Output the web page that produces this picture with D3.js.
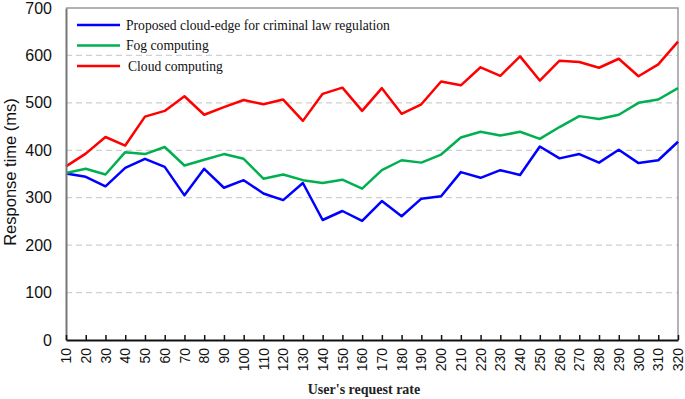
<!DOCTYPE html>
<html>
<head>
<meta charset="utf-8">
<script src="https://cdn.jsdelivr.net/npm/d3@7"></script>
<style>
  body { margin: 0; background: #fff; }
  svg { display: block; }
</style>
</head>
<body>
<svg id="chart" width="685" height="399"></svg>
<script>
const rates = [10, 20, 30, 40, 50, 60, 70, 80, 90, 100, 110, 120, 130, 140, 150, 160,
  170, 180, 190, 200, 210, 220, 230, 240, 250, 260, 270, 280, 290, 300, 310, 320];

const proposed = [351, 344, 324, 363, 382, 365, 305, 361, 321, 337, 309, 295, 331, 253, 272, 251,
  293, 261, 298, 303, 354, 342, 358, 348, 408, 383, 392, 374, 401, 373, 379, 418];

const fog = [352, 361, 349, 396, 392, 407, 368, 380, 392, 382, 340, 349, 337, 331, 338, 319,
  358, 379, 374, 391, 427, 439, 431, 439, 424, 449, 472, 466, 475, 500, 507, 531];

const cloud = [366, 393, 428, 410, 471, 483, 514, 475, 491, 506, 497, 507, 462, 519, 532, 483,
  531, 477, 497, 545, 537, 575, 557, 598, 547, 589, 586, 574, 593, 556, 581, 629];

const yTicks = [0, 100, 200, 300, 400, 500, 600, 700];

const seriesNames = ['Proposed cloud-edge for criminal law regulation', 'Fog computing', 'Cloud computing'];
const seriesColors = ['#0000ff', '#00b050', '#ff0000'];

function renderChart() {
  const margin = { top: 8, right: 7, bottom: 59, left: 66 };
  const width = 685 - margin.left - margin.right;
  const height = 399 - margin.top - margin.bottom;

  const svg = d3.select('#chart');
  const g = svg.append('g')
    .attr('transform', `translate(${margin.left},${margin.top})`);

  const xScale = d3.scalePoint()
    .domain(rates)
    .range([0, width]);

  const yScale = d3.scaleLinear()
    .domain([0, 700])
    .range([height, 0]);

  // grid
  g.selectAll('.grid')
    .data(yTicks.filter(d => d > 0 && d < 700))
    .enter()
    .append('line')
    .attr('x1', 0)
    .attr('x2', width)
    .attr('y1', d => yScale(d))
    .attr('y2', d => yScale(d))
    .attr('stroke', '#d0d0d0')
    .attr('stroke-width', 1.3)
    .attr('stroke-dasharray', '6,4');

  // frame top/right
  g.append('path')
    .attr('d', `M0,${yScale(700)}H${width}V${height}`)
    .attr('fill', 'none')
    .attr('stroke', '#999')
    .attr('stroke-width', 1.5);

  const line = d3.line()
    .x((d, i) => xScale(rates[i]))
    .y(d => yScale(d));

  [proposed, fog, cloud].forEach((s, k) => {
    g.append('path')
      .datum(s)
      .attr('d', line)
      .attr('fill', 'none')
      .attr('stroke', seriesColors[k])
      .attr('stroke-width', 2.5)
      .attr('stroke-linejoin', 'round');
  });

  // left axis
  const yAxis = g.append('g')
    .call(d3.axisLeft(yScale).tickValues(yTicks).tickSize(0).tickPadding(14));
  yAxis.select('.domain').attr('stroke', '#777').attr('stroke-width', 2);
  yAxis.selectAll('text')
    .style('font-family', 'Liberation Sans, Arial, sans-serif')
    .style('font-size', '16px')
    .attr('fill', '#111');

  // bottom axis
  const xAxis = g.append('g')
    .attr('transform', `translate(0,${height})`)
    .call(d3.axisBottom(xScale).tickSizeInner(-5).tickSizeOuter(0).tickPadding(8));
  xAxis.select('.domain').attr('stroke', '#111').attr('stroke-width', 2);
  xAxis.selectAll('.tick line').attr('stroke', '#111').attr('stroke-width', 1.5);
  xAxis.selectAll('text')
    .attr('transform', 'rotate(-90)')
    .attr('x', -8)
    .attr('y', 0)
    .attr('dy', '0.33em')
    .style('text-anchor', 'end')
    .style('font-family', 'Liberation Sans, Arial, sans-serif')
    .style('font-size', '14px')
    .attr('fill', '#111');

  // legend
  const legend = g.append('g');
  seriesNames.forEach((name, k) => {
    const ly = 17 + k * 20.5;
    legend.append('line')
      .attr('x1', 11).attr('x2', 54)
      .attr('y1', ly).attr('y2', ly)
      .attr('stroke', seriesColors[k])
      .attr('stroke-width', 2.5);
    legend.append('text')
      .attr('x', k === 2 ? 62 : 60)
      .attr('y', ly)
      .attr('dy', '0.35em')
      .style('font-family', 'Liberation Serif, Times New Roman, serif')
      .style('font-size', '13.6px')
      .attr('fill', '#111')
      .text(name);
  });

  // axis titles
  svg.append('text')
    .attr('transform', 'rotate(-90)')
    .attr('x', -(margin.top + height / 2 - 2))
    .attr('y', 16)
    .style('text-anchor', 'middle')
    .style('font-family', 'Liberation Sans, Arial, sans-serif')
    .style('font-size', '16.5px')
    .attr('fill', '#111')
    .text('Response time (ms)');

  svg.append('text')
    .attr('x', 364)
    .attr('y', 394)
    .style('text-anchor', 'middle')
    .style('font-family', 'Liberation Serif, Times New Roman, serif')
    .style('font-size', '14px')
    .style('font-weight', 'bold')
    .attr('fill', '#222')
    .text("User's request rate");
}

renderChart();
</script>
</body>
</html>
